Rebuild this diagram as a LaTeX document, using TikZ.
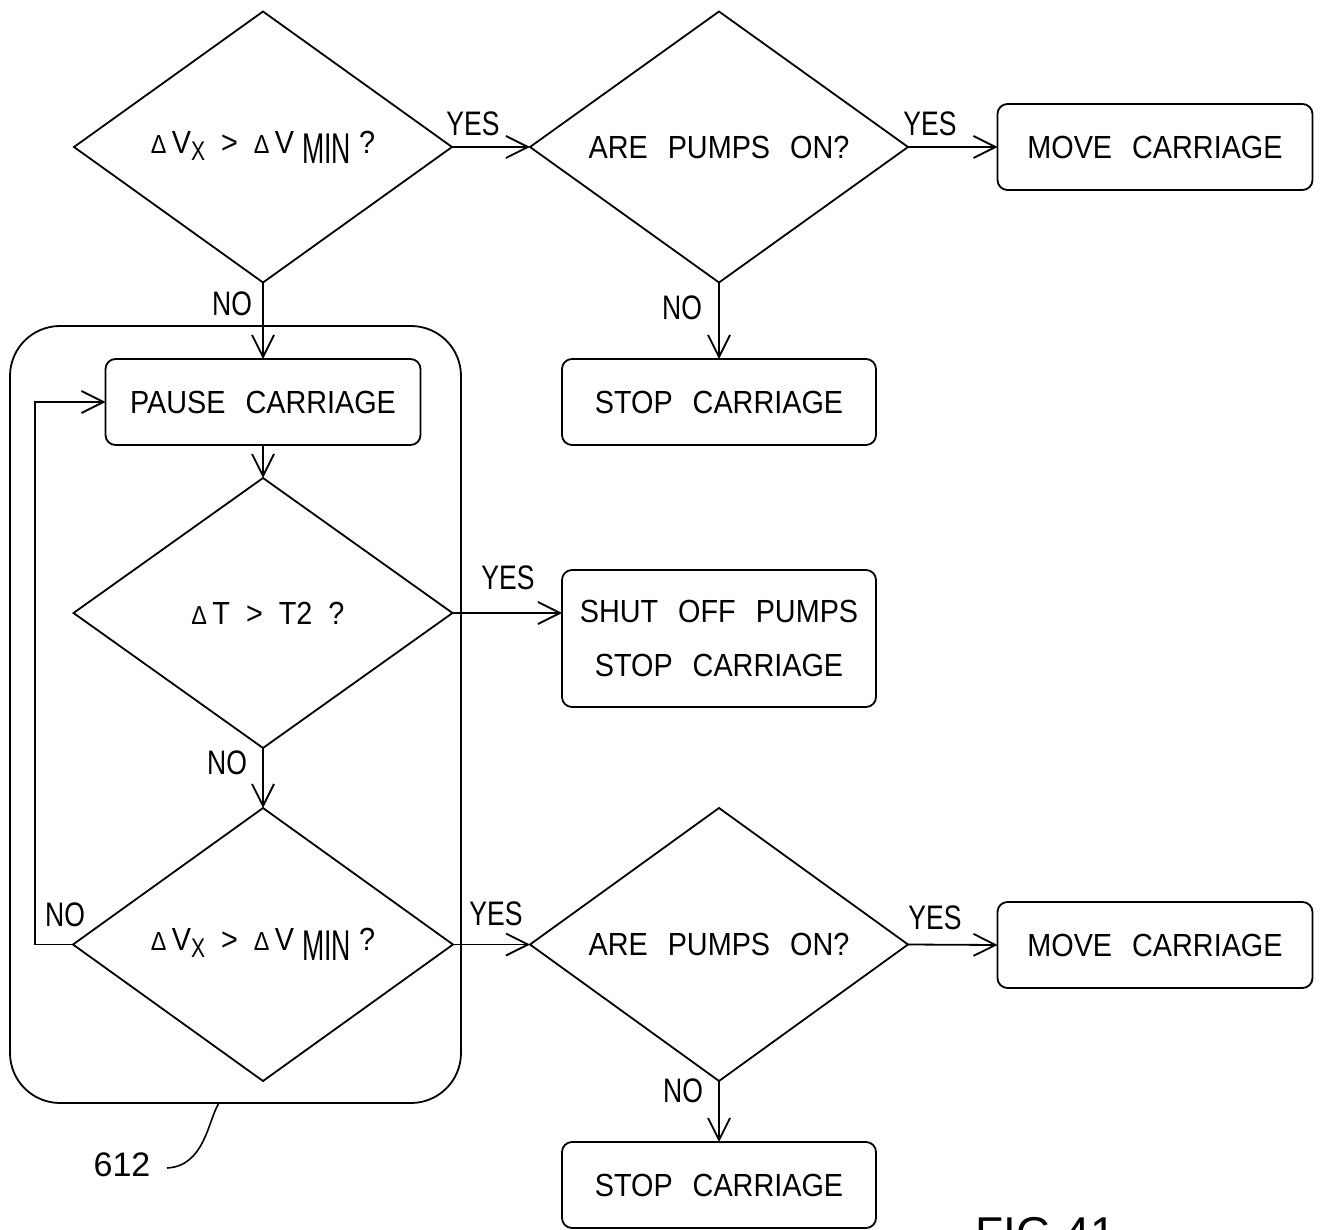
\documentclass[tikz,border=0pt]{standalone}
\usepackage{fontspec}
\setmainfont{Liberation Sans}[FakeStretch=0.9]
\newfontfamily\lblfont{Liberation Sans}[FakeStretch=0.78]
\newfontfamily\minfont{Liberation Sans}[FakeStretch=0.62]
\newfontfamily\numfont{Liberation Sans}
\usetikzlibrary{shapes.geometric,arrows.meta}
\newcommand{\wsp}{\hspace{20pt}}
\newcommand{\dsym}{{\fontsize{26}{26}\selectfont Δ}}
\newcommand{\dvx}{\dsym\,V\raisebox{-7pt}{\lblfont\fontsize{27}{27}\selectfont X}\ \ >\ \ \dsym\,V\ \raisebox{-10pt}{\minfont\fontsize{43}{43}\selectfont MIN}\ ?}
\begin{document}
\begin{tikzpicture}[x=1pt,y=-1pt,
  every node/.style={font=\fontsize{32}{54}\selectfont},
  dia/.style={diamond,draw,line width=1.8pt,inner sep=0pt,outer sep=0pt,aspect=2,minimum width=378pt,minimum height=271pt},
  box/.style={rectangle,draw,rounded corners=10pt,line width=1.8pt,minimum width=315pt,minimum height=86pt,inner sep=0pt,outer sep=0pt,align=center},
  lbl/.style={font=\lblfont\fontsize{34}{34}\selectfont,inner sep=0pt},
  flow/.style={line width=1.8pt,-{Straight Barb[length=22pt,width=22pt]}},
  plain/.style={line width=1.8pt},
]
\useasboundingbox (0,0) rectangle (1320,1230);
\clip (0,0) rectangle (1320,1230);

% group outline
\draw[plain,rounded corners=50pt] (10,326) rectangle (461,1103);

% nodes
\node[dia] (d1) at (263,147) {\dvx};
\node[dia] (d2) at (719,147) {ARE\wsp PUMPS\wsp ON?};
\node[box] (move1) at (1155,147) {MOVE\wsp CARRIAGE};
\node[box] (pause) at (263,402) {PAUSE\wsp CARRIAGE};
\node[box,minimum width=314pt] (stop1) at (719,402) {STOP\wsp CARRIAGE};
\node[dia,minimum width=379pt,minimum height=270pt] (d3) at (263,613) {\hspace{10pt}\dsym\,T\ \ >\ \ T2\ \ ?};
\node[box,minimum width=314pt,minimum height=137pt] (shut) at (719,638.5) {SHUT\wsp OFF\wsp PUMPS\\STOP\wsp CARRIAGE};
\node[dia,minimum width=380pt,minimum height=273pt] (d4) at (263,944.5) {\dvx};
\node[dia,minimum height=273pt] (d5) at (719,944.5) {ARE\wsp PUMPS\wsp ON?};
\node[box] (move2) at (1155,945) {MOVE\wsp CARRIAGE};
\node[box,minimum width=314pt] (stop2) at (719,1185) {STOP\wsp CARRIAGE};

% connectors
\draw[flow] (d1.east) -- (d2.west);
\draw[flow] (d2.east) -- (move1.west);
\draw[flow] (d1.south) -- (pause.north);
\draw[flow] (d2.south) -- (stop1.north);
\draw[flow] (pause.south) -- (d3.north);
\draw[flow] (d3.east) -- (d3.east -| shut.west);
\draw[flow] (d3.south) -- (d4.north);
\draw[flow] (d4.west) -- ++(-38,0) |- (pause.west);
\draw[flow] (d4.east) -- (d5.west);
\draw[flow] (d5.east) -- (move2.west);
\draw[flow] (d5.south) -- (stop2.north);

% labels
\node[lbl] (y1) at (473,124) {YES};
\node[lbl] (y2) at (930,124) {YES};
\node[lbl] (n1) at (232,304) {NO};
\node[lbl] (n2) at (682,308) {NO};
\node[lbl] (y3) at (508,578) {YES};
\node[lbl] (n3) at (227,763) {NO};
\node[lbl] (n4) at (65,915) {NO};
\node[lbl] (y4) at (496,914) {YES};
\node[lbl] (y5) at (935,918) {YES};
\node[lbl] (n5) at (683,1091) {NO};

% reference numeral
\node[inner sep=0pt,font=\numfont\fontsize{34}{34}\selectfont] (r612) at (122,1165) {612};
\coordinate (lead) at (219,1103);
\draw[plain,line width=1.6pt] (167,1168) .. controls (205,1166) and (208,1120) .. (lead);

% figure caption (cut off at bottom, as in the reference)
\node[anchor=base west,inner sep=0pt,font=\numfont\fontsize{46}{50}\selectfont] (fig) at (975,1249) {FIG.41};
\end{tikzpicture}
\end{document}
